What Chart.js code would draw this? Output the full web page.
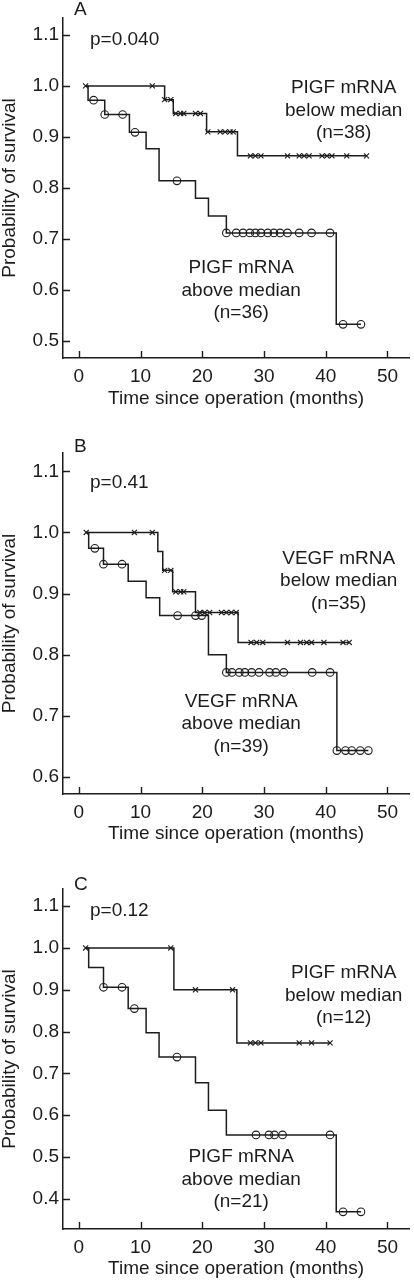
<!DOCTYPE html>
<html>
<head>
<meta charset="utf-8">
<script src="https://cdn.jsdelivr.net/npm/chart.js@4.4.1/dist/chart.umd.min.js"></script>
<style>
  html, body { margin: 0; padding: 0; background: #fff; overflow: hidden; }
  canvas { display: block; }
</style>
</head>
<body>
<canvas id="cA" width="414" height="420"></canvas>
<canvas id="cB" width="414" height="430"></canvas>
<canvas id="cC" width="414" height="430"></canvas>
<script>
// ---------------- DATA ----------------
const xTicks = [0, 10, 20, 30, 40, 50];
const yTicksA = [0.5, 0.6, 0.7, 0.8, 0.9, 1.0, 1.1];
const yTicksB = [0.6, 0.7, 0.8, 0.9, 1.0, 1.1];
const yTicksC = [0.4, 0.5, 0.6, 0.7, 0.8, 0.9, 1.0, 1.1];

// Panel A – PIGF
const A_belowEventTimes = [13.9, 15.3, 20.7, 25.7];
const A_belowSurvival   = [0.973, 0.946, 0.910, 0.863];
const A_belowCensored   = [1.1, 11.9, 13.9, 14.9, 15.7, 16.5, 17.0, 18.9, 19.7, 20.9, 22.9, 23.7, 24.5, 25.0,
                           27.8, 28.6, 29.5, 33.8, 35.7, 36.5, 37.3, 39.4, 40.2, 41.0, 43.4, 46.6];
const A_aboveEventTimes = [1.5, 4.2, 8.2, 10.9, 13.0, 18.9, 21.0, 23.9, 41.7];
const A_aboveSurvival   = [0.972, 0.944, 0.909, 0.877, 0.814, 0.780, 0.745, 0.712, 0.533];
const A_aboveCensored   = [2.4, 4.2, 7.1, 9.1, 15.9, 23.9, 25.5, 26.6, 27.7, 28.6, 29.5, 30.6, 31.6, 32.6,
                           33.8, 35.7, 37.7, 40.7, 42.8, 45.7];

// Panel B – VEGF
const B_belowEventTimes = [12.8, 13.6, 15.2, 18.9, 25.8];
const B_belowSurvival   = [0.969, 0.938, 0.903, 0.869, 0.820];
const B_belowCensored   = [1.2, 9.0, 11.9, 13.9, 14.9, 15.7, 16.5, 17.0, 19.6, 20.4, 21.2, 23.1, 23.9, 24.7, 25.5,
                           27.9, 28.8, 29.8, 33.8, 35.9, 36.9, 37.7, 39.7, 42.8, 43.8];
const B_aboveEventTimes = [1.6, 4.0, 8.0, 10.9, 13.1, 21.0, 23.9, 41.8];
const B_aboveSurvival   = [0.974, 0.948, 0.920, 0.893, 0.864, 0.800, 0.771, 0.643];
const B_aboveCensored   = [2.6, 4.0, 7.0, 16.0, 18.9, 19.9, 23.9, 24.8, 26.0, 26.9, 28.0, 29.2, 30.9, 31.9, 33.2,
                           37.8, 40.7, 41.8, 43.2, 44.2, 45.6, 46.9];

// Panel C – PIGF (subgroup)
const C_belowEventTimes = [15.4, 25.6];
const C_belowSurvival   = [0.900, 0.773];
const C_belowCensored   = [1.1, 14.9, 18.9, 24.9, 27.8, 28.6, 29.5, 35.7, 37.7, 40.7];
const C_aboveEventTimes = [1.6, 4.0, 8.0, 10.9, 13.0, 18.9, 21.0, 23.9, 41.7];
const C_aboveSurvival   = [0.953, 0.906, 0.855, 0.797, 0.739, 0.678, 0.612, 0.553, 0.369];
const C_aboveCensored   = [4.0, 7.0, 9.0, 15.9, 28.7, 30.8, 31.7, 33.0, 40.7, 42.8, 45.7];

const lineStartA = 1.1, lineStartB = 1.2, lineStartC = 1.1;

// ---------------- STYLE / LAYOUT ----------------
const INK = '#1c1c1c';
const FONT = "'Liberation Sans', Arial, sans-serif";
const FS = 19;

function survAt(times, surv, t) {
  let s = 1;
  times.forEach((et, i) => { if (t >= et - 1e-9) s = surv[i]; });
  return s;
}

function curveDatasets(start, times, surv, censored, marker) {
  const end = Math.max(...censored, times[times.length - 1]);
  const linePts = [{x: start, y: 1}];
  times.forEach((t, i) => linePts.push({x: t, y: surv[i]}));
  linePts.push({x: end, y: surv[surv.length - 1]});
  const marks = censored.map(t => ({x: t, y: survAt(times, surv, t)}));
  return [
    {type: 'line', data: linePts, stepped: 'before', borderColor: INK, borderWidth: 1.5,
     pointRadius: 0, fill: false, order: 2},
    {type: 'scatter', data: marks, showLine: false, pointStyle: marker === 'x' ? 'crossRot' : 'circle',
     pointRadius: marker === 'x' ? 3.6 : 3.8, pointHoverRadius: 0, borderColor: INK,
     backgroundColor: 'rgba(0,0,0,0)', pointBorderWidth: 1.1, borderWidth: 1.1, order: 1}
  ];
}

const decor = {
  id: 'decor',
  afterDraw(chart, args, o) {
    const {ctx, chartArea: a, scales: {x, y}} = chart;
    ctx.save();
    ctx.strokeStyle = INK; ctx.lineWidth = 1.4;
    ctx.beginPath();
    xTicks.forEach(v => { const px = Math.round(x.getPixelForValue(v)) + 0.5; ctx.moveTo(px, a.bottom); ctx.lineTo(px, a.bottom - 7); });
    o.yTicks.forEach(v => { const py = Math.round(y.getPixelForValue(v)) + 0.5; ctx.moveTo(a.left, py); ctx.lineTo(a.left + 7, py); });
    ctx.stroke();
    ctx.fillStyle = INK;
    ctx.font = FS + 'px ' + FONT;
    ctx.textBaseline = 'middle';
    ctx.textAlign = 'left';
    ctx.fillText(o.letter, a.left + 11, a.top + o.letterDy);
    ctx.fillText(o.pText, a.left + 27, y.getPixelForValue(1.1) + o.pDy);
    ctx.textAlign = 'center';
    o.labels.forEach(l => {
      const cx = x.getPixelForValue(l.x), cy = y.getPixelForValue(l.y);
      l.lines.forEach((s, i) => ctx.fillText(s, cx, cy + i * 22.5));
    });
    ctx.restore();
  }
};

function makeChart(id, p) {
  new Chart(document.getElementById(id), {
    data: {datasets: p.datasets},
    options: {
      responsive: false, animation: false,
      layout: {padding: {top: p.top, left: 0, right: 1, bottom: 0}},
      plugins: {legend: {display: false}, tooltip: {enabled: false},
                decor: {yTicks: p.yTicks, letter: p.letter, letterDy: p.letterDy, pText: p.pText, pDy: p.pDy, labels: p.labels}},
      scales: {
        x: {
          type: 'linear', min: -2.56, max: 53.5,
          afterBuildTicks: s => { s.ticks = xTicks.map(v => ({value: v})); },
          afterFit: s => { s.height = p.xH; },
          grid: {display: true, drawOnChartArea: false, drawTicks: false},
          border: {display: true, color: INK, width: 1.5},
          ticks: {color: INK, font: {family: FONT, size: FS}, padding: 7, callback: v => String(v), maxRotation: 0},
          title: {display: true, text: 'Time since operation (months)', color: INK,
                  font: {family: FONT, size: FS, lineHeight: 1.2}, padding: {top: 0, bottom: p.titlePad}}
        },
        y: {
          type: 'linear', min: p.yMin, max: p.yMax,
          afterBuildTicks: s => { s.ticks = p.yTicks.map(v => ({value: v})); },
          afterFit: s => { s.width = 63; },
          grid: {display: true, drawOnChartArea: false, drawTicks: false},
          border: {display: true, color: INK, width: 1.5},
          ticks: {color: INK, font: {family: FONT, size: FS}, padding: 4, callback: v => Number(v).toFixed(1)},
          title: {display: true, text: 'Probability of survival', color: INK,
                  font: {family: FONT, size: FS, lineHeight: 1.0}, padding: {top: 0, bottom: 0}}
        }
      }
    },
    plugins: [decor]
  });
}

makeChart('cA', {
  top: 18, xH: 62, titlePad: 10, yMin: 0.467, yMax: 1.133, yTicks: yTicksA,
  letter: 'A', letterDy: -8, pText: 'p=0.040', pDy: 5,
  datasets: [...curveDatasets(lineStartA, A_belowEventTimes, A_belowSurvival, A_belowCensored, 'x'),
             ...curveDatasets(lineStartA, A_aboveEventTimes, A_aboveSurvival, A_aboveCensored, 'o')],
  labels: [{lines: ['PIGF mRNA', 'below median', '(n=38)'], x: 42.9, y: 0.996},
           {lines: ['PIGF mRNA', 'above median', '(n=36)'], x: 26.3, y: 0.643}]
});
makeChart('cB', {
  top: 33, xH: 56, titlePad: 5, yMin: 0.572, yMax: 1.13, yTicks: yTicksB,
  letter: 'B', letterDy: -6, pText: 'p=0.41', pDy: 11,
  datasets: [...curveDatasets(lineStartB, B_belowEventTimes, B_belowSurvival, B_belowCensored, 'x'),
             ...curveDatasets(lineStartB, B_aboveEventTimes, B_aboveSurvival, B_aboveCensored, 'o')],
  labels: [{lines: ['VEGF mRNA', 'below median', '(n=35)'], x: 42.1, y: 0.957},
           {lines: ['VEGF mRNA', 'above median', '(n=39)'], x: 26.3, y: 0.723}]
});
makeChart('cC', {
  top: 39, xH: 51, titlePad: 0, yMin: 0.328, yMax: 1.141, yTicks: yTicksC,
  letter: 'C', letterDy: -4, pText: 'p=0.12', pDy: 5,
  datasets: [...curveDatasets(lineStartC, C_belowEventTimes, C_belowSurvival, C_belowCensored, 'x'),
             ...curveDatasets(lineStartC, C_aboveEventTimes, C_aboveSurvival, C_aboveCensored, 'o')],
  labels: [{lines: ['PIGF mRNA', 'below median', '(n=12)'], x: 42.9, y: 0.94},
           {lines: ['PIGF mRNA', 'above median', '(n=21)'], x: 26.3, y: 0.5}]
});
</script>
</body>
</html>
